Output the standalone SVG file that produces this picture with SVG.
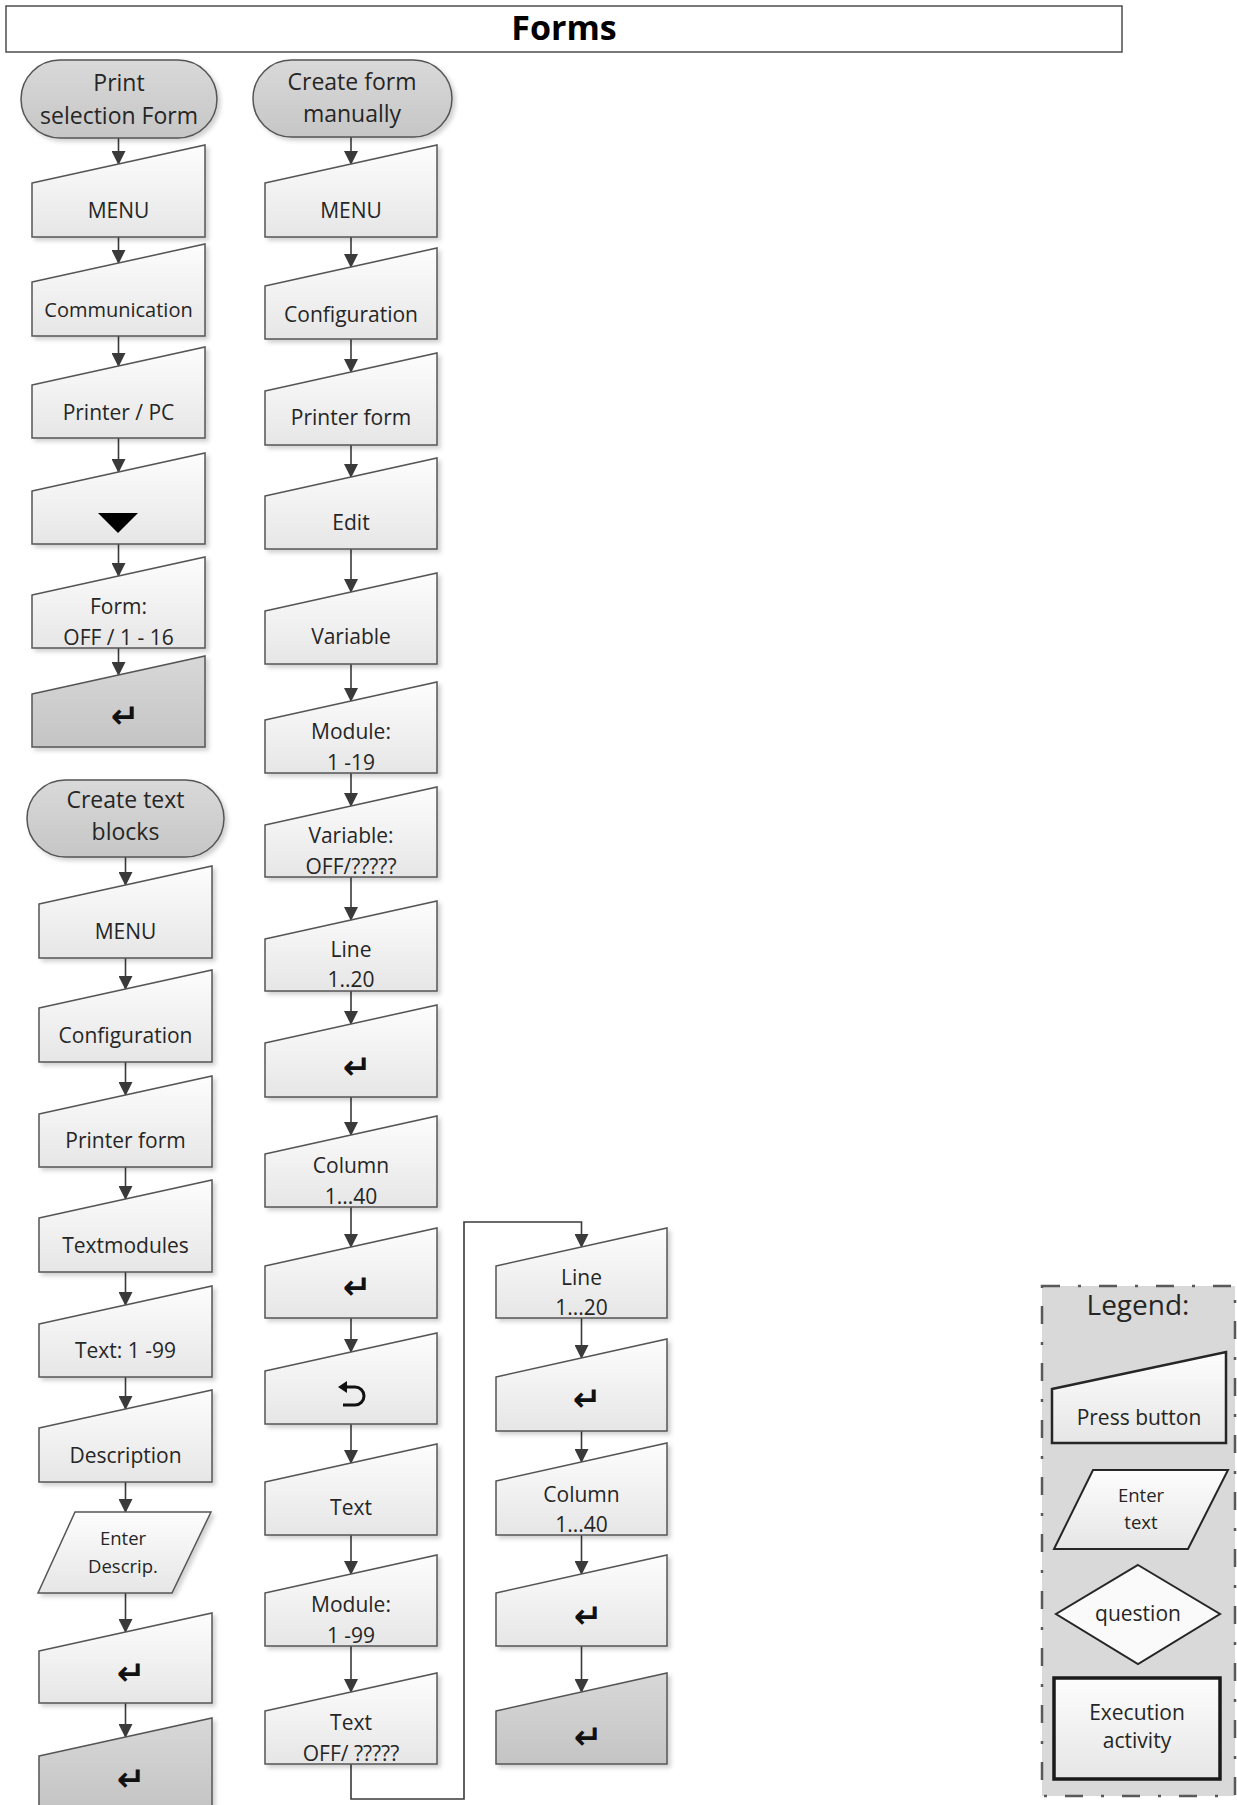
<svg xmlns="http://www.w3.org/2000/svg" width="1237" height="1805" viewBox="0 0 1237 1805">
<defs>
<linearGradient id="gLight" x1="0" y1="0" x2="0" y2="1"><stop offset="0" stop-color="#fdfdfd"/><stop offset="1" stop-color="#e6e6e6"/></linearGradient>
<linearGradient id="gDark" x1="0" y1="0" x2="0" y2="1"><stop offset="0" stop-color="#d8d8d8"/><stop offset="1" stop-color="#c4c4c4"/></linearGradient>
<linearGradient id="gTerm" x1="0" y1="0" x2="0" y2="1"><stop offset="0" stop-color="#d9d9d9"/><stop offset="1" stop-color="#c6c6c6"/></linearGradient>
<filter id="sh" x="-10%" y="-10%" width="130%" height="130%"><feDropShadow dx="3" dy="3" stdDeviation="2" flood-color="#000" flood-opacity="0.18"/></filter>
<marker id="ah" markerUnits="userSpaceOnUse" markerWidth="16" markerHeight="14" refX="13" refY="7" orient="auto"><path d="M0,0 L14,7 L0,14 Z" fill="#3a3a3a"/></marker>
<style>
.box{fill:url(#gLight);stroke:#555;stroke-width:1.5;filter:url(#sh)}
.dark{fill:url(#gDark);stroke:#555;stroke-width:1.5;filter:url(#sh)}
.term{fill:url(#gTerm);stroke:#555;stroke-width:1.5;filter:url(#sh)}
.t{font-family:"Open Sans","Liberation Sans",sans-serif;font-size:21px;fill:#262626;text-anchor:middle}
.tt{font-family:"Open Sans","Liberation Sans",sans-serif;font-size:23px;fill:#262626;text-anchor:middle}
.ts{font-family:"Open Sans","Liberation Sans",sans-serif;font-size:18.5px;fill:#262626;text-anchor:middle}
.sym{font-family:"DejaVu Sans",sans-serif;font-weight:bold;font-size:34px;fill:#111;text-anchor:middle}
.c{fill:none;stroke:#404040;stroke-width:1.5}
.ca{fill:none;stroke:#3a3a3a;stroke-width:1.6;marker-end:url(#ah)}
.ico{fill:none;stroke:#111;stroke-width:3}
</style>
</defs>
<rect width="1237" height="1805" fill="#fff"/>

<g id="title">
<rect x="6" y="6" width="1116" height="46" fill="#fff" stroke="#4d4d4d" stroke-width="1.5"/>
<text x="564" y="40" font-family="'Open Sans','Liberation Sans',sans-serif" font-size="34" font-weight="bold" fill="#000" text-anchor="middle">Forms</text>
</g>

<g id="connectors">
<line class="ca" x1="118.5" y1="138" x2="118.5" y2="164"/>
<line class="ca" x1="118.5" y1="237" x2="118.5" y2="263"/>
<line class="ca" x1="118.5" y1="336" x2="118.5" y2="366"/>
<line class="ca" x1="118.5" y1="438" x2="118.5" y2="472"/>
<line class="ca" x1="118.5" y1="544" x2="118.5" y2="576"/>
<line class="ca" x1="118.5" y1="648" x2="118.5" y2="675"/>

<line class="ca" x1="351" y1="137" x2="351" y2="164"/>
<line class="ca" x1="351" y1="237" x2="351" y2="267"/>
<line class="ca" x1="351" y1="339" x2="351" y2="372"/>
<line class="ca" x1="351" y1="445" x2="351" y2="477"/>
<line class="ca" x1="351" y1="549" x2="351" y2="592"/>
<line class="ca" x1="351" y1="664" x2="351" y2="701"/>
<line class="ca" x1="351" y1="773" x2="351" y2="806"/>
<line class="ca" x1="351" y1="877" x2="351" y2="920"/>
<line class="ca" x1="351" y1="991" x2="351" y2="1024"/>
<line class="ca" x1="351" y1="1097" x2="351" y2="1135"/>
<line class="ca" x1="351" y1="1207" x2="351" y2="1247"/>
<line class="ca" x1="351" y1="1318" x2="351" y2="1352"/>
<line class="ca" x1="351" y1="1424" x2="351" y2="1463"/>
<line class="ca" x1="351" y1="1535" x2="351" y2="1574"/>
<line class="ca" x1="351" y1="1646" x2="351" y2="1692"/>

<line class="ca" x1="125.5" y1="857" x2="125.5" y2="885"/>
<line class="ca" x1="125.5" y1="958" x2="125.5" y2="989"/>
<line class="ca" x1="125.5" y1="1062" x2="125.5" y2="1095"/>
<line class="ca" x1="125.5" y1="1167" x2="125.5" y2="1199"/>
<line class="ca" x1="125.5" y1="1272" x2="125.5" y2="1305"/>
<line class="ca" x1="125.5" y1="1377" x2="125.5" y2="1409"/>
<line class="ca" x1="125.5" y1="1482" x2="125.5" y2="1512"/>
<line class="ca" x1="125.5" y1="1593" x2="125.5" y2="1632"/>
<line class="ca" x1="125.5" y1="1703" x2="125.5" y2="1737"/>

<path class="ca" d="M351,1764 V1799 H464 V1222 H581.5 V1247"/>
<line class="ca" x1="581.5" y1="1318" x2="581.5" y2="1358"/>
<line class="ca" x1="581.5" y1="1431" x2="581.5" y2="1462"/>
<line class="ca" x1="581.5" y1="1535" x2="581.5" y2="1574"/>
<line class="ca" x1="581.5" y1="1646" x2="581.5" y2="1692"/>
</g>

<!-- Column A -->
<g id="a0"><rect class="term" x="21" y="60" width="196" height="78" rx="39" ry="39"/><text class="tt" x="119" y="91">Print</text><text class="tt" x="119" y="124">selection Form</text></g>
<g id="a1"><path class="box" d="M32,183 L205,145 L205,237 L32,237 Z"/><text class="t" x="118.5" y="218">MENU</text></g>
<g id="a2"><path class="box" d="M32,282 L205,244 L205,336 L32,336 Z"/><text class="t" x="118.5" y="317" style="font-size:20px">Communication</text></g>
<g id="a3"><path class="box" d="M32,385 L205,347 L205,438 L32,438 Z"/><text class="t" x="118.5" y="420">Printer / PC</text></g>
<g id="a4"><path class="box" d="M32,491 L205,453 L205,544 L32,544 Z"/><polygon points="98,513 138,513 118,533" fill="#000"/></g>
<g id="a5"><path class="box" d="M32,595 L205,557 L205,648 L32,648 Z"/><text class="t" x="118.5" y="614">Form:</text><text class="t" x="118.5" y="645">OFF / 1 - 16</text></g>
<g id="a6"><path class="dark" d="M32,694 L205,656 L205,747 L32,747 Z"/><text class="sym" x="125" y="728">↵</text></g>

<!-- Column B -->
<g id="b0"><rect class="term" x="253" y="60" width="199" height="77" rx="38.5" ry="38.5"/><text class="tt" x="352" y="90">Create form</text><text class="tt" x="352" y="122">manually</text></g>
<g id="b1"><path class="box" d="M265,183 L437,145 L437,237 L265,237 Z"/><text class="t" x="351" y="218">MENU</text></g>
<g id="b2"><path class="box" d="M265,286 L437,248 L437,339 L265,339 Z"/><text class="t" x="351" y="322">Configuration</text></g>
<g id="b3"><path class="box" d="M265,391 L437,353 L437,445 L265,445 Z"/><text class="t" x="351" y="425">Printer form</text></g>
<g id="b4"><path class="box" d="M265,496 L437,458 L437,549 L265,549 Z"/><text class="t" x="351" y="530">Edit</text></g>
<g id="b5"><path class="box" d="M265,611 L437,573 L437,664 L265,664 Z"/><text class="t" x="351" y="644">Variable</text></g>
<g id="b6"><path class="box" d="M265,720 L437,682 L437,773 L265,773 Z"/><text class="t" x="351" y="739">Module:</text><text class="t" x="351" y="770">1 -19</text></g>
<g id="b7"><path class="box" d="M265,825 L437,787 L437,877 L265,877 Z"/><text class="t" x="351" y="843">Variable:</text><text class="t" x="351" y="874">OFF/?????</text></g>
<g id="b8"><path class="box" d="M265,939 L437,901 L437,991 L265,991 Z"/><text class="t" x="351" y="957">Line</text><text class="t" x="351" y="987">1..20</text></g>
<g id="b9"><path class="box" d="M265,1043 L437,1005 L437,1097 L265,1097 Z"/><text class="sym" x="357" y="1079">↵</text></g>
<g id="b10"><path class="box" d="M265,1154 L437,1116 L437,1207 L265,1207 Z"/><text class="t" x="351" y="1173">Column</text><text class="t" x="351" y="1204">1...40</text></g>
<g id="b11"><path class="box" d="M265,1266 L437,1228 L437,1318 L265,1318 Z"/><text class="sym" x="357" y="1299">↵</text></g>
<g id="b12"><path class="box" d="M265,1371 L437,1333 L437,1424 L265,1424 Z"/><path class="ico" d="M345,1387 H355 A9,9 0 0 1 355,1405 H343"/><polygon points="338,1387 347,1381 347,1393" fill="#111"/></g>
<g id="b13"><path class="box" d="M265,1482 L437,1444 L437,1535 L265,1535 Z"/><text class="t" x="351" y="1515">Text</text></g>
<g id="b14"><path class="box" d="M265,1593 L437,1555 L437,1646 L265,1646 Z"/><text class="t" x="351" y="1612">Module:</text><text class="t" x="351" y="1643">1 -99</text></g>
<g id="b15"><path class="box" d="M265,1711 L437,1673 L437,1764 L265,1764 Z"/><text class="t" x="351" y="1730">Text</text><text class="t" x="351" y="1761">OFF/ ?????</text></g>

<!-- Column C -->
<g id="c0"><rect class="term" x="27" y="780" width="197" height="77" rx="38.5" ry="38.5"/><text class="tt" x="125.5" y="808">Create text</text><text class="tt" x="125.5" y="840">blocks</text></g>
<g id="c1"><path class="box" d="M39,904 L212,866 L212,958 L39,958 Z"/><text class="t" x="125.5" y="939">MENU</text></g>
<g id="c2"><path class="box" d="M39,1008 L212,970 L212,1062 L39,1062 Z"/><text class="t" x="125.5" y="1043">Configuration</text></g>
<g id="c3"><path class="box" d="M39,1114 L212,1076 L212,1167 L39,1167 Z"/><text class="t" x="125.5" y="1148">Printer form</text></g>
<g id="c4"><path class="box" d="M39,1218 L212,1180 L212,1272 L39,1272 Z"/><text class="t" x="125.5" y="1253">Textmodules</text></g>
<g id="c5"><path class="box" d="M39,1324 L212,1286 L212,1377 L39,1377 Z"/><text class="t" x="125.5" y="1358">Text: 1 -99</text></g>
<g id="c6"><path class="box" d="M39,1428 L212,1390 L212,1482 L39,1482 Z"/><text class="t" x="125.5" y="1463">Description</text></g>
<g id="c7"><path class="box" d="M75,1512 L211,1512 L172,1593 L38,1593 Z"/><text class="ts" x="123" y="1545">Enter</text><text class="ts" x="123" y="1573">Descrip.</text></g>
<g id="c8"><path class="box" d="M39,1651 L212,1613 L212,1703 L39,1703 Z"/><text class="sym" x="131" y="1685">↵</text></g>
<g id="c9"><path class="dark" d="M39,1756 L212,1718 L212,1810 L39,1810 Z"/><text class="sym" x="131" y="1791">↵</text></g>

<!-- Column D -->
<g id="d1"><path class="box" d="M496,1266 L667,1228 L667,1318 L496,1318 Z"/><text class="t" x="581.5" y="1285">Line</text><text class="t" x="581.5" y="1315">1...20</text></g>
<g id="d2"><path class="box" d="M496,1377 L667,1339 L667,1431 L496,1431 Z"/><text class="sym" x="587" y="1411">↵</text></g>
<g id="d3"><path class="box" d="M496,1481 L667,1443 L667,1535 L496,1535 Z"/><text class="t" x="581.5" y="1502">Column</text><text class="t" x="581.5" y="1532">1...40</text></g>
<g id="d4"><path class="box" d="M496,1593 L667,1555 L667,1646 L496,1646 Z"/><text class="sym" x="588" y="1628">↵</text></g>
<g id="d5"><path class="dark" d="M496,1711 L667,1673 L667,1764 L496,1764 Z"/><text class="sym" x="588" y="1749">↵</text></g>

<!-- Legend -->
<g id="legend">
<rect x="1042" y="1286" width="193" height="510" fill="#d9d9d9" stroke="#595959" stroke-width="2.5" stroke-dasharray="18 18 3 18"/>
<text x="1138" y="1315" font-family="'Open Sans','Liberation Sans',sans-serif" font-size="28" fill="#262626" text-anchor="middle">Legend:</text>
</g>
<g id="leg-press"><path d="M1052,1389 L1226,1352 L1226,1443 L1052,1443 Z" fill="url(#gLight)" stroke="#262626" stroke-width="2.5"/><text class="t" x="1139" y="1425">Press button</text></g>
<g id="leg-enter"><path d="M1093,1470 L1228,1470 L1188,1549 L1054,1549 Z" fill="url(#gLight)" stroke="#262626" stroke-width="2"/><text class="ts" x="1141" y="1502">Enter</text><text class="ts" x="1141" y="1529">text</text></g>
<g id="leg-question"><path d="M1138,1565 L1220,1614 L1138,1664 L1056,1614 Z" fill="#fafafa" stroke="#262626" stroke-width="2"/><text class="t" x="1138" y="1621">question</text></g>
<g id="leg-exec"><rect x="1054" y="1678" width="166" height="101" fill="url(#gLight)" stroke="#1a1a1a" stroke-width="3.5"/><text class="t" x="1137" y="1720">Execution</text><text class="t" x="1137" y="1748">activity</text></g>
</svg>
